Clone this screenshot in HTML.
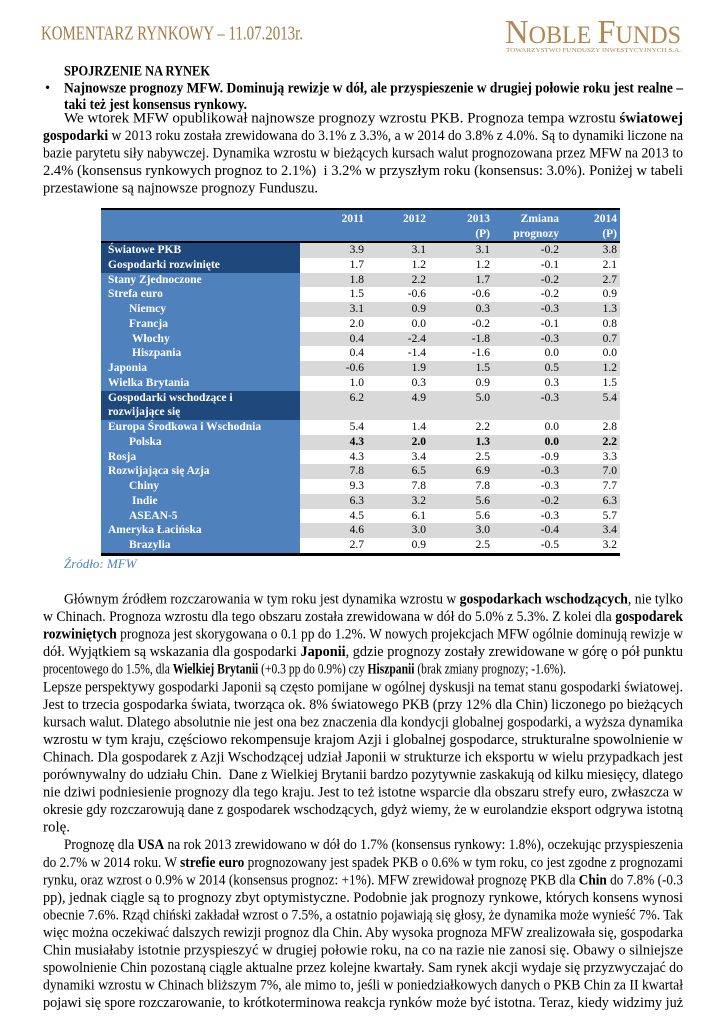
<!DOCTYPE html>
<html lang="pl">
<head>
<meta charset="utf-8">
<style>
*{margin:0;padding:0;box-sizing:border-box}
html,body{width:725px;height:1024px;background:#fff;overflow:hidden}
body{position:relative;font-family:"Liberation Serif","DejaVu Serif",serif;color:#000}
svg.txt{position:absolute;left:0;top:0;width:725px;height:1024px}
svg.txt text{font-family:"Liberation Serif","DejaVu Serif",serif;font-size:14.5px;fill:#000}
.row{position:absolute;left:101px;width:519px;height:14.75px;font-size:11.5px;line-height:14.75px}
.g{background:#d9d9d9}
.lb{position:absolute;left:0;top:0;width:199px;height:100%;background:#4f81bd;color:#fff;font-weight:bold;padding-left:7px;white-space:nowrap}
.dk{background:#1f497d}
.in{padding-left:28px}
.in2{padding-left:31px}
.v{position:absolute;top:0;white-space:nowrap}
.c1{right:256px}.c2{right:194px}.c3{right:130px}.c4{right:61px}.c5{right:3px}
.hd{position:absolute;color:#fff;font-weight:bold;font-size:11.5px;line-height:14.75px;white-space:nowrap}
</style>
</head>
<body>

<!-- Table -->
<div style="position:absolute;left:101px;top:208px;width:519px;height:2px;background:#000"></div>
<div style="position:absolute;left:101px;top:210px;width:519px;height:31px;background:#4f81bd"></div>
<div style="position:absolute;left:101px;top:241px;width:519px;height:2px;background:#000"></div>

<div class="hd" style="right:361px;top:211.5px">2011</div>
<div class="hd" style="right:299px;top:211.5px">2012</div>
<div class="hd" style="right:235px;top:211.5px">2013</div>
<div class="hd" style="right:235px;top:226.5px">(P)</div>
<div class="hd" style="right:166px;top:211.5px">Zmiana</div>
<div class="hd" style="right:166px;top:226.5px">prognozy</div>
<div class="hd" style="right:108px;top:211.5px">2014</div>
<div class="hd" style="right:108px;top:226.5px">(P)</div>

<div class="row g" style="top:243px"><div class="lb dk">Światowe PKB</div><span class="v c1">3.9</span><span class="v c2">3.1</span><span class="v c3">3.1</span><span class="v c4">-0.2</span><span class="v c5">3.8</span></div>
<div class="row" style="top:257.75px"><div class="lb dk">Gospodarki rozwinięte</div><span class="v c1">1.7</span><span class="v c2">1.2</span><span class="v c3">1.2</span><span class="v c4">-0.1</span><span class="v c5">2.1</span></div>
<div class="row g" style="top:272.5px"><div class="lb">Stany Zjednoczone</div><span class="v c1">1.8</span><span class="v c2">2.2</span><span class="v c3">1.7</span><span class="v c4">-0.2</span><span class="v c5">2.7</span></div>
<div class="row" style="top:287.25px"><div class="lb">Strefa euro</div><span class="v c1">1.5</span><span class="v c2">-0.6</span><span class="v c3">-0.6</span><span class="v c4">-0.2</span><span class="v c5">0.9</span></div>
<div class="row g" style="top:302px"><div class="lb in">Niemcy</div><span class="v c1">3.1</span><span class="v c2">0.9</span><span class="v c3">0.3</span><span class="v c4">-0.3</span><span class="v c5">1.3</span></div>
<div class="row" style="top:316.75px"><div class="lb in">Francja</div><span class="v c1">2.0</span><span class="v c2">0.0</span><span class="v c3">-0.2</span><span class="v c4">-0.1</span><span class="v c5">0.8</span></div>
<div class="row g" style="top:331.5px"><div class="lb in2">Włochy</div><span class="v c1">0.4</span><span class="v c2">-2.4</span><span class="v c3">-1.8</span><span class="v c4">-0.3</span><span class="v c5">0.7</span></div>
<div class="row" style="top:346.25px"><div class="lb in2">Hiszpania</div><span class="v c1">0.4</span><span class="v c2">-1.4</span><span class="v c3">-1.6</span><span class="v c4">0.0</span><span class="v c5">0.0</span></div>
<div class="row g" style="top:361px"><div class="lb">Japonia</div><span class="v c1">-0.6</span><span class="v c2">1.9</span><span class="v c3">1.5</span><span class="v c4">0.5</span><span class="v c5">1.2</span></div>
<div class="row" style="top:375.75px"><div class="lb">Wielka Brytania</div><span class="v c1">1.0</span><span class="v c2">0.3</span><span class="v c3">0.9</span><span class="v c4">0.3</span><span class="v c5">1.5</span></div>
<div class="row g" style="top:390.5px;height:29.5px"><div class="lb dk">Gospodarki wschodzące i<br>rozwijające się</div><span class="v c1">6.2</span><span class="v c2">4.9</span><span class="v c3">5.0</span><span class="v c4">-0.3</span><span class="v c5">5.4</span></div>
<div class="row" style="top:420px"><div class="lb">Europa Środkowa i Wschodnia</div><span class="v c1">5.4</span><span class="v c2">1.4</span><span class="v c3">2.2</span><span class="v c4">0.0</span><span class="v c5">2.8</span></div>
<div class="row g" style="top:434.75px;font-weight:bold"><div class="lb in">Polska</div><span class="v c1">4.3</span><span class="v c2">2.0</span><span class="v c3">1.3</span><span class="v c4">0.0</span><span class="v c5">2.2</span></div>
<div class="row" style="top:449.5px"><div class="lb">Rosja</div><span class="v c1">4.3</span><span class="v c2">3.4</span><span class="v c3">2.5</span><span class="v c4">-0.9</span><span class="v c5">3.3</span></div>
<div class="row g" style="top:464.25px"><div class="lb">Rozwijająca się Azja</div><span class="v c1">7.8</span><span class="v c2">6.5</span><span class="v c3">6.9</span><span class="v c4">-0.3</span><span class="v c5">7.0</span></div>
<div class="row" style="top:479px"><div class="lb in">Chiny</div><span class="v c1">9.3</span><span class="v c2">7.8</span><span class="v c3">7.8</span><span class="v c4">-0.3</span><span class="v c5">7.7</span></div>
<div class="row g" style="top:493.75px"><div class="lb in2">Indie</div><span class="v c1">6.3</span><span class="v c2">3.2</span><span class="v c3">5.6</span><span class="v c4">-0.2</span><span class="v c5">6.3</span></div>
<div class="row" style="top:508.5px"><div class="lb in">ASEAN-5</div><span class="v c1">4.5</span><span class="v c2">6.1</span><span class="v c3">5.6</span><span class="v c4">-0.3</span><span class="v c5">5.7</span></div>
<div class="row g" style="top:523.25px"><div class="lb">Ameryka Łacińska</div><span class="v c1">4.6</span><span class="v c2">3.0</span><span class="v c3">3.0</span><span class="v c4">-0.4</span><span class="v c5">3.4</span></div>
<div class="row" style="top:538px"><div class="lb in">Brazylia</div><span class="v c1">2.7</span><span class="v c2">0.9</span><span class="v c3">2.5</span><span class="v c4">-0.5</span><span class="v c5">3.2</span></div>
<div style="position:absolute;left:101px;top:552.5px;width:519px;height:3px;background:#000"></div>

<div style="position:absolute;left:64px;top:555px;font-size:13px;line-height:18px;font-style:italic;color:#4f81bd;white-space:nowrap">Źródło: MFW</div>

<svg class="txt" xmlns="http://www.w3.org/2000/svg" width="725" height="1024" viewBox="0 0 725 1024">
<!-- Header -->
<text x="41" y="39.5" textLength="262" lengthAdjust="spacingAndGlyphs" style="font-size:19.5px;fill:#a47a45">KOMENTARZ RYNKOWY – 11.07.2013r.</text>
<text x="505" y="43" textLength="176" lengthAdjust="spacingAndGlyphs" style="font-size:25px;fill:#b08850"><tspan style="font-size:34px">N</tspan>OBLE <tspan style="font-size:34px">F</tspan>UNDS</text>
<text x="506" y="52" textLength="175" lengthAdjust="spacingAndGlyphs" style="font-size:6px;fill:#b08850">TOWARZYSTWO FUNDUSZY INWESTYCYJNYCH S.A.</text>

<!-- Block 1 -->
<text x="64" y="75.5" textLength="146" lengthAdjust="spacingAndGlyphs" font-weight="bold">SPOJRZENIE NA RYNEK</text>
<text x="45" y="92.5">•</text>
<text x="64" y="92.5" textLength="619" lengthAdjust="spacingAndGlyphs" font-weight="bold">Najnowsze prognozy MFW. Dominują rewizje w dół, ale przyspieszenie w drugiej połowie roku jest realne –</text>
<text x="64" y="109" textLength="183" lengthAdjust="spacingAndGlyphs" font-weight="bold">taki też jest konsensus rynkowy.</text>
<text x="64" y="122.5" textLength="619" lengthAdjust="spacingAndGlyphs">We wtorek MFW opublikował najnowsze prognozy wzrostu PKB. Prognoza tempa wzrostu <tspan font-weight="bold">światowej</tspan></text>
<text x="43" y="140" textLength="640" lengthAdjust="spacingAndGlyphs"><tspan font-weight="bold">gospodarki</tspan> w 2013 roku została zrewidowana do 3.1% z 3.3%, a w 2014 do 3.8% z 4.0%. Są to dynamiki liczone na</text>
<text x="43" y="157.5" textLength="640" lengthAdjust="spacingAndGlyphs">bazie parytetu siły nabywczej. Dynamika wzrostu w bieżących kursach walut prognozowana przez MFW na 2013 to</text>
<text x="43" y="175" textLength="640" lengthAdjust="spacingAndGlyphs">2.4% (konsensus rynkowych prognoz to 2.1%) &#160;i 3.2% w przyszłym roku (konsensus: 3.0%). Poniżej w tabeli</text>
<text x="43" y="192.5" textLength="275" lengthAdjust="spacingAndGlyphs">przestawione są najnowsze prognozy Funduszu.</text>

<!-- Block 2 -->
<text x="64" y="603.5" textLength="619" lengthAdjust="spacingAndGlyphs">Głównym źródłem rozczarowania w tym roku jest dynamika wzrostu w <tspan font-weight="bold">gospodarkach wschodzących</tspan>, nie tylko</text>
<text x="43" y="621.05" textLength="640" lengthAdjust="spacingAndGlyphs">w Chinach. Prognoza wzrostu dla tego obszaru została zrewidowana w dół do 5.0% z 5.3%. Z kolei dla <tspan font-weight="bold">gospodarek</tspan></text>
<text x="43" y="638.6" textLength="640" lengthAdjust="spacingAndGlyphs"><tspan font-weight="bold">rozwiniętych</tspan> prognoza jest skorygowana o 0.1 pp do 1.2%. W nowych projekcjach MFW ogólnie dominują rewizje w</text>
<text x="43" y="656.15" textLength="640" lengthAdjust="spacingAndGlyphs">dół. Wyjątkiem są wskazania dla gospodarki <tspan font-weight="bold">Japonii</tspan>, gdzie prognozy zostały zrewidowane w górę o pół punktu</text>
<text x="43" y="673.7" textLength="523" lengthAdjust="spacingAndGlyphs">procentowego do 1.5%, dla <tspan font-weight="bold">Wielkiej Brytanii</tspan> (+0.3 pp do 0.9%) czy <tspan font-weight="bold">Hiszpanii</tspan> (brak zmiany prognozy; -1.6%).</text>
<text x="43" y="691.25" textLength="640" lengthAdjust="spacingAndGlyphs">Lepsze perspektywy gospodarki Japonii są często pomijane w ogólnej dyskusji na temat stanu gospodarki światowej.</text>
<text x="43" y="708.8" textLength="640" lengthAdjust="spacingAndGlyphs">Jest to trzecia gospodarka świata, tworząca ok. 8% światowego PKB (przy 12% dla Chin) liczonego po bieżących</text>
<text x="43" y="726.35" textLength="640" lengthAdjust="spacingAndGlyphs">kursach walut. Dlatego absolutnie nie jest ona bez znaczenia dla kondycji globalnej gospodarki, a wyższa dynamika</text>
<text x="43" y="743.9" textLength="640" lengthAdjust="spacingAndGlyphs">wzrostu w tym kraju, częściowo rekompensuje krajom Azji i globalnej gospodarce, strukturalne spowolnienie w</text>
<text x="43" y="761.45" textLength="640" lengthAdjust="spacingAndGlyphs">Chinach. Dla gospodarek z Azji Wschodzącej udział Japonii w strukturze ich eksportu w wielu przypadkach jest</text>
<text x="43" y="779" textLength="640" lengthAdjust="spacingAndGlyphs">porównywalny do udziału Chin. &#160;Dane z Wielkiej Brytanii bardzo pozytywnie zaskakują od kilku miesięcy, dlatego</text>
<text x="43" y="796.55" textLength="640" lengthAdjust="spacingAndGlyphs">nie dziwi podniesienie prognozy dla tego kraju. Jest to też istotne wsparcie dla obszaru strefy euro, zwłaszcza w</text>
<text x="43" y="814.1" textLength="640" lengthAdjust="spacingAndGlyphs">okresie gdy rozczarowują dane z gospodarek wschodzących, gdyż wiemy, że w eurolandzie eksport odgrywa istotną</text>
<text x="43" y="831.65" textLength="27" lengthAdjust="spacingAndGlyphs">rolę.</text>
<text x="64" y="849.2" textLength="619" lengthAdjust="spacingAndGlyphs">Prognozę dla <tspan font-weight="bold">USA</tspan> na rok 2013 zrewidowano w dół do 1.7% (konsensus rynkowy: 1.8%), oczekując przyspieszenia</text>
<text x="43" y="866.75" textLength="640" lengthAdjust="spacingAndGlyphs">do 2.7% w 2014 roku. W <tspan font-weight="bold">strefie euro</tspan> prognozowany jest spadek PKB o 0.6% w tym roku, co jest zgodne z prognozami</text>
<text x="43" y="884.3" textLength="640" lengthAdjust="spacingAndGlyphs">rynku, oraz wzrost o 0.9% w 2014 (konsensus prognoz: +1%). MFW zrewidował prognozę PKB dla <tspan font-weight="bold">Chin</tspan> do 7.8% (-0.3</text>
<text x="43" y="901.85" textLength="640" lengthAdjust="spacingAndGlyphs">pp), jednak ciągle są to prognozy zbyt optymistyczne. Podobnie jak prognozy rynkowe, których konsens wynosi</text>
<text x="43" y="919.4" textLength="640" lengthAdjust="spacingAndGlyphs">obecnie 7.6%. Rząd chiński zakładał wzrost o 7.5%, a ostatnio pojawiają się głosy, że dynamika może wynieść 7%. Tak</text>
<text x="43" y="936.95" textLength="640" lengthAdjust="spacingAndGlyphs">więc można oczekiwać dalszych rewizji prognoz dla Chin. Aby wysoka prognoza MFW zrealizowała się, gospodarka</text>
<text x="43" y="954.5" textLength="640" lengthAdjust="spacingAndGlyphs">Chin musiałaby istotnie przyspieszyć w drugiej połowie roku, na co na razie nie zanosi się. Obawy o silniejsze</text>
<text x="43" y="972.05" textLength="640" lengthAdjust="spacingAndGlyphs">spowolnienie Chin pozostaną ciągle aktualne przez kolejne kwartały. Sam rynek akcji wydaje się przyzwyczajać do</text>
<text x="43" y="989.6" textLength="640" lengthAdjust="spacingAndGlyphs">dynamiki wzrostu w Chinach bliższym 7%, ale mimo to, jeśli w poniedziałkowych danych o PKB Chin za II kwartał</text>
<text x="43" y="1007.15" textLength="640" lengthAdjust="spacingAndGlyphs">pojawi się spore rozczarowanie, to krótkoterminowa reakcja rynków może być istotna. Teraz, kiedy widzimy już</text>
</svg>

</body>
</html>
